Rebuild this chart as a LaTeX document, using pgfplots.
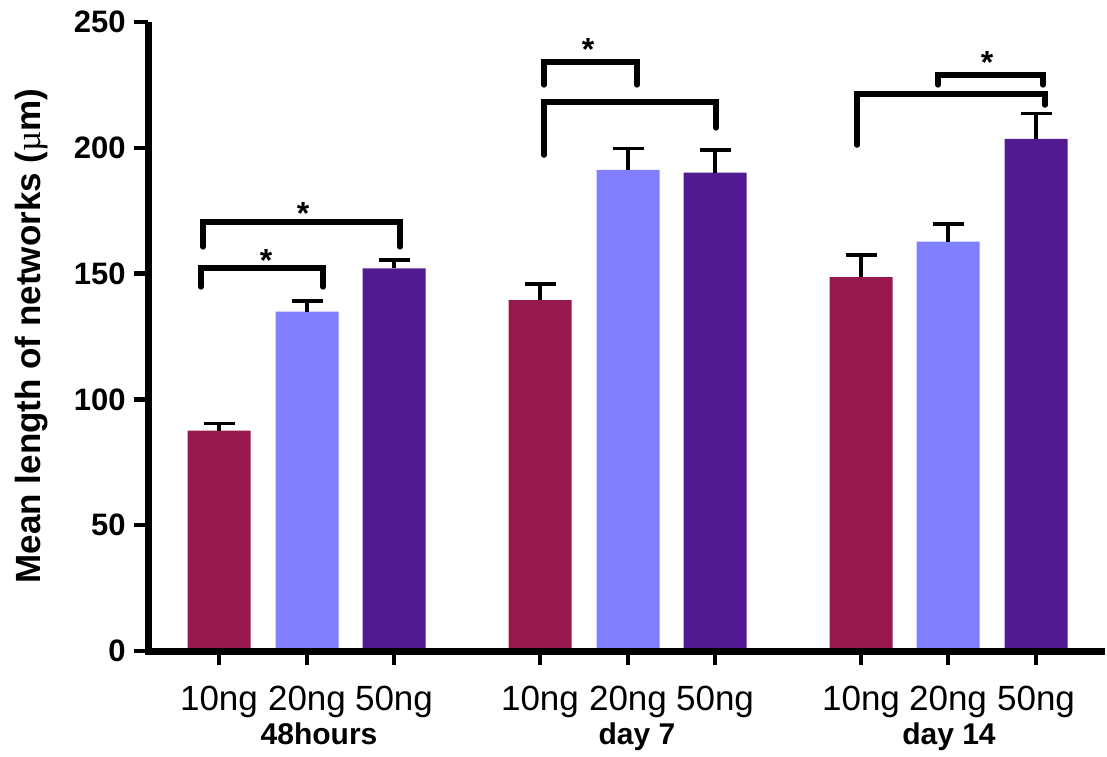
\documentclass[border=0pt]{standalone}
\usepackage{fontspec}
\setmainfont{Liberation Sans}
\newfontfamily\symserif{Liberation Serif}
\usepackage{pgfplots}
\pgfplotsset{compat=1.18}
\definecolor{cten}{RGB}{150,24,77}
\definecolor{ctwenty}{RGB}{127,127,255}
\definecolor{cfifty}{RGB}{82,26,145}
\pgfplotsset{
  errstyle/.style={
    error bars/.cd, y dir=plus, y explicit,
    error bar style={line width=1.75pt, black},
    error mark options={line width=1.75pt, mark size=7.75pt, black, rotate=90}}
}
\begin{document}
\begin{tikzpicture}
\useasboundingbox (0,0) rectangle (553.5pt,378pt);
\begin{axis}[
  at={(74pt,52.5pt)}, anchor=south west,
  scale only axis, width=478.5pt, height=314.5pt,
  xmin=148, xmax=1105, ymin=0, ymax=250,
  axis x line=bottom, axis y line=left,
  axis line style={-, draw=none},
  ytick={0,50,100,150,200,250},
  xtick={219,307,394,540,628,715,861,948,1036},
  xticklabels={10ng,20ng,50ng,10ng,20ng,50ng,10ng,20ng,50ng},
  tick align=outside, major tick length=7pt,
  tick style={line width=2.25pt, black},
  /pgf/number format/assume math mode=true,
  yticklabel style={font=\fontsize{15.5}{18}\selectfont\bfseries, anchor=east, inner sep=0pt, xshift=-4pt},
  xticklabel style={font=\fontsize{17.5}{20}\selectfont, anchor=base, inner sep=0pt, yshift=-22.5pt},
  ybar, bar width=31.5pt,
  clip=false,
]
\addplot[bar shift=0pt, fill=cten, draw=none, errstyle]
  coordinates {(219,87.6) +- (0,2.9) (540,139.5) +- (0,6.4) (861,148.6) +- (0,8.8)};
\addplot[bar shift=0pt, fill=ctwenty, draw=none, errstyle]
  coordinates {(307,134.9) +- (0,4.2) (628,191.2) +- (0,8.6) (948,162.7) +- (0,7.0)};
\addplot[bar shift=0pt, fill=cfifty, draw=none, errstyle]
  coordinates {(394,152.1) +- (0,3.3) (715,190.1) +- (0,9.0) (1036,203.5) +- (0,10.2)};
% axis spines
\draw[line width=3.5pt, black, line cap=butt, line join=miter]
  (rel axis cs:0,1) -- (rel axis cs:0,0) -- (rel axis cs:1,0);
% significance brackets
\begin{scope}[line width=2.75pt, line cap=round, line join=miter]
\draw (axis cs:201,144.7) -- (axis cs:201,152.2) -- (axis cs:323,152.2) -- (axis cs:323,144.7);
\draw (axis cs:203,160.6) -- (axis cs:203,170.5) -- (axis cs:400,170.5) -- (axis cs:400,160.6);
\draw (axis cs:544,225.0) -- (axis cs:544,234.1) -- (axis cs:637,234.1) -- (axis cs:637,225.0);
\draw (axis cs:544,197.1) -- (axis cs:544,218.2) -- (axis cs:716,218.2) -- (axis cs:716,207.9);
\draw (axis cs:938,225.0) -- (axis cs:938,228.9) -- (axis cs:1043,228.9) -- (axis cs:1043,225.0);
\draw (axis cs:857,201.1) -- (axis cs:857,221.4) -- (axis cs:1045,221.4) -- (axis cs:1045,217.0);
\end{scope}
\begin{scope}[every node/.style={font=\fontsize{16}{18}\selectfont\bfseries, inner sep=0pt, anchor=base}]
\node at (axis cs:266,151.0) {*};
\node at (axis cs:303,169.7) {*};
\node at (axis cs:588,234.5) {*};
\node at (axis cs:987,229.7) {*};
\end{scope}
\end{axis}
% group labels and y label
\begin{scope}[every node/.style={font=\fontsize{15}{18}\selectfont\bfseries, inner sep=0pt, anchor=base}]
\node at (159.5pt,6pt) {48hours};
\node at (318.5pt,6pt) {day 7};
\node at (474.5pt,6pt) {day 14};
\end{scope}
\node[rotate=90, anchor=base, inner sep=0pt, font=\fontsize{17.5}{20}\selectfont\bfseries] at (20pt,210pt) {Mean length of networks ({\mdseries\symserif µ}m)};
\end{tikzpicture}
\end{document}
